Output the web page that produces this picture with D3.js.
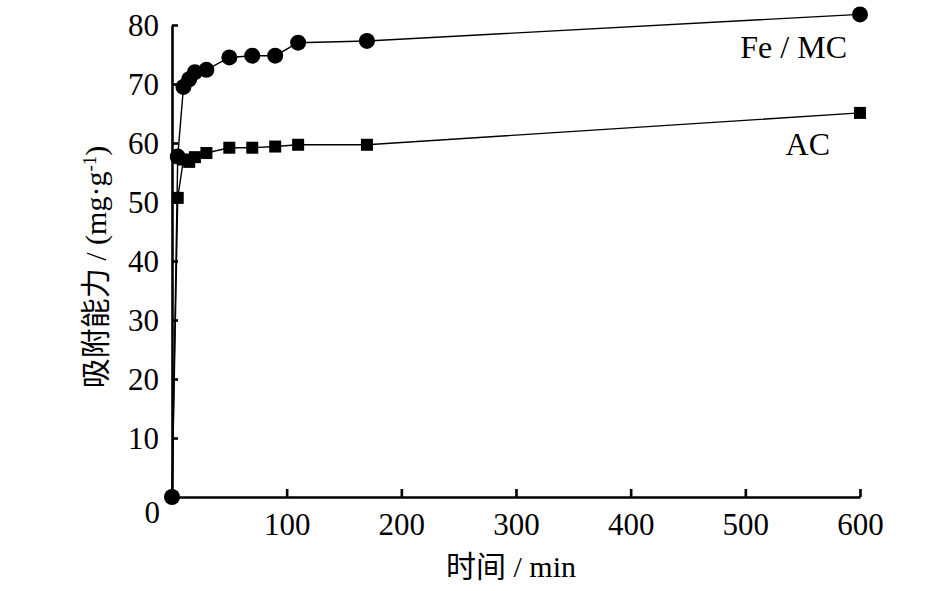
<!DOCTYPE html>
<html lang="zh">
<head>
<meta charset="UTF-8">
<title>吸附能力随时间变化</title>
<style>
  html, body { margin: 0; padding: 0; background: #fff; overflow: hidden; }
  svg text { font-family: "Liberation Serif", "Noto Sans CJK SC", serif; fill: #000; }
</style>
</head>
<body>
<svg id="chart" width="945" height="591"></svg>
<script src="https://cdn.jsdelivr.net/npm/d3@7/dist/d3.min.js"></script>
<script>
// 数据 (时间 / min, 吸附能力 / mg·g-1)
const feTime = [0, 5, 10, 15, 20, 30, 50, 70, 90, 110, 170, 600];
const feValue = [0, 57.7, 69.5, 70.8, 72.0, 72.4, 74.5, 74.8, 74.8, 77.0, 77.3, 81.8];
const acTime = [0, 5, 10, 15, 20, 30, 50, 70, 90, 110, 170, 600];
const acValue = [0, 50.7, 57.2, 56.8, 57.6, 58.3, 59.2, 59.2, 59.4, 59.7, 59.7, 65.1];
const xTicks = [100, 200, 300, 400, 500, 600];
const yTicks = [0, 10, 20, 30, 40, 50, 60, 70, 80];
const seriesNames = ['Fe / MC', 'AC'];

const width = 945, height = 591;
const margin = { top: 25, right: 85, bottom: 94, left: 172 };

const svg = d3.select('#chart');

const x = d3.scaleLinear().domain([0, 600]).range([margin.left, width - margin.right]);
const y = d3.scaleLinear().domain([0, 80]).range([height - margin.bottom, margin.top]);

// 坐标轴, 刻度朝内
const xAxis = d3.axisBottom(x).tickValues(xTicks).tickSize(-8).tickSizeOuter(0).tickPadding(16);
const yAxis = d3.axisLeft(y).tickValues(yTicks).tickSize(-6).tickSizeOuter(0).tickPadding(13)
  .tickFormat(d => d === 0 ? '' : d);

const gx = svg.append('g')
  .attr('transform', `translate(0,${y(0)})`)
  .call(xAxis);
const gy = svg.append('g')
  .attr('transform', `translate(${x(0)},0)`)
  .call(yAxis);

[gx, gy].forEach(g => {
  g.select('.domain').attr('stroke', '#000').attr('stroke-width', 2.6);
  g.selectAll('.tick line').attr('stroke', '#000').attr('stroke-width', 2.6);
  g.selectAll('.tick text')
    .attr('font-family', '"Liberation Serif", serif')
    .attr('font-size', 31)
    .attr('fill', '#000');
});
gy.selectAll('.tick text').attr('dy', '0.34em');

// 原点 0
svg.append('text')
  .attr('x', x(0) - 12)
  .attr('y', y(0) + 26)
  .attr('text-anchor', 'end')
  .attr('font-size', 31)
  .text('0');

// 坐标轴标题
svg.append('text')
  .attr('x', (x(0) + x(600)) / 2 - 5)
  .attr('y', height - 14)
  .attr('text-anchor', 'middle')
  .attr('font-size', 30)
  .text('时间 / min');

const yTitle = svg.append('text')
  .attr('transform', `translate(106,${(y(0) + y(80)) / 2 + 6}) rotate(-90)`)
  .attr('text-anchor', 'middle')
  .attr('font-size', 30);
yTitle.append('tspan').text('吸附能力 / (mg·g');
yTitle.append('tspan').attr('baseline-shift', 'super').attr('font-size', 19).text('-1');
yTitle.append('tspan').text(')');

// 折线
const line = d3.line()
  .x(d => x(d[0]))
  .y(d => y(d[1]));

const feData = feTime.map((t, i) => [t, feValue[i]]);
const acData = acTime.map((t, i) => [t, acValue[i]]);

svg.append('path')
  .datum(feData)
  .attr('d', line)
  .attr('fill', 'none')
  .attr('stroke', '#000')
  .attr('stroke-width', 1.4);

svg.append('path')
  .datum(acData)
  .attr('d', line)
  .attr('fill', 'none')
  .attr('stroke', '#000')
  .attr('stroke-width', 1.4);

// 标记
svg.append('g').selectAll('rect')
  .data(acData)
  .join('rect')
  .attr('x', d => x(d[0]) - 6)
  .attr('y', d => y(d[1]) - 6)
  .attr('width', 12)
  .attr('height', 12)
  .attr('fill', '#000');

svg.append('g').selectAll('circle')
  .data(feData)
  .join('circle')
  .attr('cx', d => x(d[0]))
  .attr('cy', d => y(d[1]))
  .attr('r', 8)
  .attr('fill', '#000');

// 系列标签
svg.append('text')
  .attr('x', x(600) - 13)
  .attr('y', y(feValue[feValue.length - 1]) + 44)
  .attr('text-anchor', 'end')
  .attr('font-size', 32)
  .text(seriesNames[0]);

svg.append('text')
  .attr('x', x(600) - 30)
  .attr('y', y(acValue[acValue.length - 1]) + 42)
  .attr('text-anchor', 'end')
  .attr('font-size', 32)
  .text(seriesNames[1]);
</script>
</body>
</html>
